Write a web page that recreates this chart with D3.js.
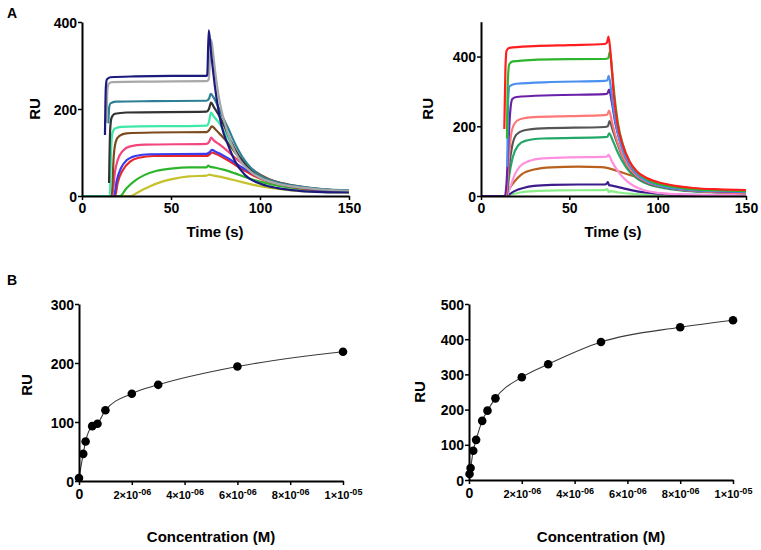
<!DOCTYPE html>
<html>
<head>
<meta charset="utf-8">
<script src="https://cdn.jsdelivr.net/npm/d3@7"></script>
<style>
  html, body { margin: 0; padding: 0; background: #fff; }
  svg text { font-family: Arial, "Liberation Sans", sans-serif; font-weight: bold; fill: #000; }
</style>
</head>
<body>
<svg id="chart" width="761" height="550"></svg>
<script>
// ---------------- DATA ----------------
// Panel A (left): sensorgrams, [time (s), RU]
const tlNavy  = [[12.9,140],[13.4,250],[14,268],[16,273],[30,275],[50,276],[70,276],[70.4,280],[71.2,381],[72.5,330],[74.7,251],[78.5,160],[82,118],[86,80],[91.6,48],[101,27],[110,18],[122,12],[135,9],[150,8]];
const tlGray  = [[13.8,168],[14.3,245],[15,258],[17,262],[40,263],[70,264],[71.2,268],[72.6,359],[73.6,330],[75,280],[77,225],[80,170],[84,120],[89,80],[95,55],[101,40],[110,28],[122,20],[135,15],[150,12]];
const tlTeal  = [[14.8,167],[15.3,205],[16,213],[19,217],[40,218],[70,219],[71.5,225],[72.3,235],[74,226],[76,210],[79,182],[82.2,155],[86,120],[90,90],[95,64],[101,45],[110,31],[122,22],[135,16],[150,13]];
const tlBlack = [[15.2,30],[15.8,150],[16.6,180],[18.5,189],[25,192],[70,194],[71.3,200],[72.5,215],[74,205],[77,185],[80,160],[84,123],[88,93],[94,63],[101,42],[112,28],[125,19],[150,12]];
const tlMint  = [[0,0],[15.6,0],[16.3,100],[17,143],[18.5,155],[22,159],[70,162],[71.3,170],[72.5,192],[74,183],[77,168],[80,148],[84,118],[88,90],[94,62],[101,41],[112,27],[125,19],[150,12]];
const tlBrown = [[0,0],[16.7,0],[17.8,90],[19,125],[21,138],[25,144],[40,146],[70,147],[71.5,152],[73,160],[75,153],[78,140],[82,122],[86,100],[91,78],[97,57],[104,41],[113,29],[125,20],[150,11]];
const tlPink  = [[0,0],[17,0],[18.5,55],[20,82],[23,104],[27,114],[35,118],[70,120],[71.5,125],[72.5,134],[74,128],[77,119],[81,106],[86,88],[91,71],[97,54],[104,39],[113,28],[125,19],[150,11]];
const tlBlue  = [[0,0],[18,0],[19.5,35],[22,65],[25,82],[30,92],[38,96],[70,97],[71.5,100],[73,106],[75,102],[79,94],[84,82],[89,68],[95,54],[102,39],[112,27],[125,18],[150,10]];
const tlRed   = [[0,0],[18.6,0],[20,30],[23,60],[27,79],[32,88],[40,92],[70,92],[71.5,95],[73,100],[75,97],[79,89],[84,77],[89,64],[95,50],[102,37],[112,26],[125,17],[150,10]];
const tlGreen = [[0,0],[21.3,0],[25,18],[30,36],[35,48],[42,58],[50,63],[60,66],[70,66],[71,70],[72,67],[75,65],[80,60],[86,52],[92,43],[100,33],[110,24],[125,16],[150,10]];
const tlOlive = [[0,0],[27.4,0],[32,10],[38,22],[45,33],[52,40],[60,45],[70,47],[71.5,49],[74,47],[78,44],[84,38],[90,32],[97,25],[105,19],[115,14],[130,10],[150,8]];

// Panel A (right): sensorgrams, [time (s), RU]
const trRed    = [[13.2,192],[13.8,360],[14.5,417],[16,425],[30,430],[50,433],[70,436],[71.3,440],[72.2,457],[73.5,400],[75,300],[77,215],[80,150],[84,100],[88,72],[93,54],[100,40],[110,29],[120,23],[135,19],[150,17]];
const trGreen  = [[14.7,165],[15.2,330],[16,378],[18,386],[25,389],[40,392],[70,393],[72,395],[73,414],[74,370],[75.5,290],[77.5,210],[80.5,145],[84,100],[88,70],[93,50],[100,35],[110,25],[120,19],[135,16],[150,14]];
const trBlue   = [[14.9,84],[15.4,280],[16.2,315],[20,322],[40,327],[70,330],[71.5,332],[72.3,345],[73.5,310],[75,250],[77,190],[80,135],[84,90],[88,64],[93,45],[100,32],[110,22],[120,17],[135,14],[150,12]];
const trPurple = [[0,0],[13.5,0],[14.5,40],[15.5,150],[16.5,240],[17.7,278],[20,284],[40,289],[70,292],[71.5,294],[72.5,305],[74,270],[76,210],[78.5,160],[82,110],[86,75],[91,52],[97,37],[105,26],[115,19],[130,14],[150,11]];
const trSalmon = [[0,0],[14.3,0],[15.5,90],[17,175],[19,208],[22,220],[30,226],[50,229],[70,232],[71.5,234],[72.5,245],[74,215],[76,175],[79,130],[83,88],[88,58],[94,40],[102,28],[112,19],[130,12],[150,8]];
const trDkGray = [[0,0],[14.5,0],[15.8,80],[17.5,140],[20,176],[24,188],[35,194],[70,198],[71.8,200],[72.8,215],[74.5,190],[76.5,160],[79.5,120],[83.5,82],[88,56],[94,38],[102,27],[112,18],[130,12],[150,9]];
const trTealGr = [[0,0],[14.5,0],[16,60],[18,112],[21,145],[25,158],[35,165],[70,169],[71.6,170],[72.5,180],[74.5,160],[77,130],[80,100],[84,70],[89,48],[95,33],[103,23],[113,16],[130,11],[150,8]];
const trPink   = [[0,0],[14.5,0],[16.5,25],[19,60],[22,85],[27,100],[35,108],[50,111],[70,112],[71.5,114],[72.2,118],[74,100],[77,75],[81,50],[86,30],[92,17],[100,9],[112,5],[130,3],[150,2]];
const trBrown  = [[0,0],[14,0],[16,20],[19,42],[23,62],[30,76],[40,82],[55,84],[68,83],[72,80],[77,72],[82,64],[88,55],[95,45],[103,34],[113,25],[125,19],[150,14]];
const trDkPurp = [[0,0],[13.5,0],[16,5],[19,14],[24,23],[30,29],[40,32],[55,33],[70,33],[71.3,36],[71.8,40],[72.5,31],[74,30],[79,24],[85,17],[93,10],[103,6],[120,3],[150,2]];
const trLtGreen= [[0,0],[14,0],[17,4],[22,10],[30,14],[45,16],[70,17],[71.5,20],[72.2,11],[73,14],[78,10],[86,6],[95,4],[110,2],[150,1]];

// Panel B: steady-state binding
const blConc = [0, 0.16e-6, 0.25e-6, 0.5e-6, 0.7e-6, 1e-6, 2e-6, 3e-6, 6e-6, 10e-6];
const blRU   = [5, 46, 67, 93, 97, 120, 148, 163, 194, 219];
const brConc = [0.02e-6, 0.06e-6, 0.16e-6, 0.27e-6, 0.5e-6, 0.7e-6, 1e-6, 2e-6, 3e-6, 5e-6, 8e-6, 10e-6];
const brRU   = [17, 34, 83, 114, 168, 197, 232, 292, 329, 392, 434, 454];

// Tick values / labels
const timeTicks = [0, 50, 100, 150];
const tlRuTicks = [0, 200, 400];
const trRuTicks = [0, 200, 400];
const blRuTicks = [0, 100, 200, 300];
const brRuTicks = [0, 100, 200, 300, 400, 500];
const concTicks = [0, 2e-6, 4e-6, 6e-6, 8e-6, 1e-5];

// Series lists (drawing order: bottom first)
const tlList = [tlOlive, tlGreen, tlRed, tlBlue, tlPink, tlBrown, tlMint, tlBlack, tlTeal, tlGray, tlNavy];
const tlColors = ["#c6c22c", "#2cb52c", "#e82828", "#3a3af0", "#f2467c", "#7b4b1f", "#3ee8a8", "#333333", "#2e8096", "#a8a8a8", "#1b1b7d"];
const trList = [trLtGreen, trDkPurp, trBrown, trPink, trTealGr, trDkGray, trSalmon, trPurple, trBlue, trGreen, trRed];
const trColors = ["#88ee88", "#3c1c8c", "#b8601c", "#ff90e0", "#22a868", "#555555", "#ff7878", "#6a20a8", "#4a90f0", "#2db52d", "#ff1e1e"];

// ---------------- DRAW ----------------
const svg = d3.select("#chart");

function styleAxis(g, fontSize) {
  g.select(".domain").attr("stroke", "#000").attr("stroke-width", 2);
  g.selectAll(".tick line").attr("stroke", "#000").attr("stroke-width", 1.5);
  g.selectAll(".tick text").style("font-size", fontSize + "px").attr("fill", "#000");
}

function drawSensorPanel(xr, yr, ydom, yTicks, list, colors, ruX, titleX) {
  const x = d3.scaleLinear().domain([0, 150]).range(xr);
  const y = d3.scaleLinear().domain(ydom).range(yr);
  const line = d3.line().x(d => x(d[0])).y(d => y(d[1])).curve(d3.curveMonotoneX);
  const g = svg.append("g");
  g.selectAll("path.s").data(list).enter().append("path")
    .attr("class", "s")
    .attr("d", d => line(d))
    .attr("fill", "none")
    .attr("stroke", (d, i) => colors[i])
    .attr("stroke-width", 2.2)
    .attr("stroke-linejoin", "round");
  const ax = g.append("g").attr("transform", `translate(0,${yr[0]})`)
    .call(d3.axisBottom(x).tickValues(timeTicks).tickSize(4).tickPadding(3).tickSizeOuter(0).tickFormat(d3.format("d")));
  styleAxis(ax, 14);
  const ay = g.append("g").attr("transform", `translate(${xr[0]},0)`)
    .call(d3.axisLeft(y).tickValues(yTicks).tickSize(4).tickPadding(1).tickSizeOuter(0).tickFormat(d3.format("d")));
  styleAxis(ay, 14);
  ay.selectAll(".tick text").attr("dy", "0.36em");
  g.append("text").attr("x", titleX).attr("y", 237).attr("text-anchor", "middle")
    .style("font-size", "15px").text("Time (s)");
  g.append("text").attr("transform", `translate(${ruX},${(yr[0] + yr[1]) / 2}) rotate(-90)`)
    .attr("text-anchor", "middle").attr("dy", "0.36em").style("font-size", "15px").text("RU");
}

drawSensorPanel([82, 349], [196, 22], [0, 400], tlRuTicks, tlList, tlColors, 35, 215);
drawSensorPanel([481, 746], [196, 21.7], [0, 500], trRuTicks, trList, trColors, 428, 613);

function drawBindingPanel(xr, yr, ydom, yTicks, conc, ru, ruX, ruY, titleX) {
  const x = d3.scaleLinear().domain([0, 1e-5]).range(xr);
  const y = d3.scaleLinear().domain(ydom).range(yr);
  const g = svg.append("g");
  const pts = conc.map((c, i) => [c, ru[i]]);
  const line = d3.line().x(d => x(d[0])).y(d => y(d[1])).curve(d3.curveMonotoneX);
  g.append("path").attr("d", line(pts)).attr("fill", "none").attr("stroke", "#3a3a3a").attr("stroke-width", 1.1);
  const ax = g.append("g").attr("transform", `translate(0,${yr[0]})`)
    .call(d3.axisBottom(x).tickValues(concTicks).tickSize(4).tickPadding(3).tickSizeOuter(0).tickFormat(() => ""));
  styleAxis(ax, 11);
  ax.selectAll(".tick text").each(function(d) {
    const t = d3.select(this);
    t.text(null);
    if (d === 0) {
      t.style("font-size", "14px").attr("dy", "0.75em").text("0");
    } else {
      const e = Math.floor(Math.log10(d) + 1e-9);
      const m = Math.round(d / Math.pow(10, e));
      t.style("font-size", "11px").attr("dy", "1.0em");
      t.append("tspan").text(m + "×10");
      t.append("tspan").attr("dy", "-0.45em").style("font-size", "9px").text("-" + String(-e).padStart(2, "0"));
    }
  });
  const ay = g.append("g").attr("transform", `translate(${xr[0]},0)`)
    .call(d3.axisLeft(y).tickValues(yTicks).tickSize(4).tickPadding(1).tickSizeOuter(0).tickFormat(d3.format("d")));
  styleAxis(ay, 14);
  ay.selectAll(".tick text").attr("dy", "0.36em");
  g.selectAll("circle").data(pts).enter().append("circle")
    .attr("cx", d => x(d[0])).attr("cy", d => y(d[1])).attr("r", 4.3).attr("fill", "#000");
  g.append("text").attr("x", titleX).attr("y", 542).attr("text-anchor", "middle")
    .style("font-size", "15px").text("Concentration (M)");
  g.append("text").attr("transform", `translate(${ruX},${ruY}) rotate(-90)`)
    .attr("text-anchor", "middle").attr("dy", "0.36em").style("font-size", "15px").text("RU");
}

drawBindingPanel([79, 343], [481, 304], [0, 300], blRuTicks, blConc, blRU, 27, 385, 211);
drawBindingPanel([469, 733], [480, 304], [0, 500], brRuTicks, brConc, brRU, 420, 392, 601);

svg.append("text").attr("x", 7).attr("y", 18).style("font-size", "14px").text("A");
svg.append("text").attr("x", 7).attr("y", 285).style("font-size", "14px").text("B");
</script>
</body>
</html>
